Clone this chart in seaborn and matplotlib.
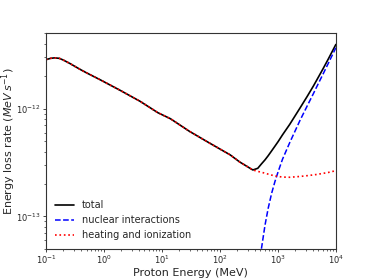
# plot.py - proton energy loss rate vs energy
import numpy as np
import matplotlib
matplotlib.use("Agg")
import matplotlib.pyplot as plt
import pandas as pd
import seaborn as sns

# Energy grid (MeV) and loss rates (units of 1e-12 MeV/s)
energy = [0.1, 0.12, 0.14, 0.17, 0.2, 0.26, 0.39, 0.5, 0.85, 1.9, 4.2, 8.5, 14, 30, 67, 150, 220, 370,
          450, 520, 600, 680, 780, 890, 1010, 1200, 1600, 2400, 3200, 4100, 4600, 6000, 7400, 10000]
heating = [2.85, 2.93, 2.96, 2.93, 2.82, 2.62, 2.31, 2.15, 1.86, 1.48, 1.17, 0.918, 0.807, 0.615, 0.478,
           0.373, 0.320, 0.270,
           0.262, 0.257, 0.252, 0.247, 0.242, 0.238, 0.235, 0.232, 0.231, 0.235, 0.239, 0.243, 0.245,
           0.251, 0.256, 0.266]
# nuclear term only switches on above a few hundred MeV
nuclear = [np.nan] * 18 + [0.0178, 0.0501, 0.0832, 0.119, 0.164, 0.211, 0.260, 0.339, 0.484, 0.776,
                           1.059, 1.380, 1.567, 2.089, 2.630, 3.673]

df = pd.DataFrame({"E": energy,
                   "heating": np.array(heating) * 1e-12,
                   "nuclear": np.array(nuclear) * 1e-12})
df["total"] = df["heating"] + df["nuclear"].fillna(0)

sns.set_style("ticks")
plt.rcParams["font.family"] = ["DejaVu Sans"]

fig = plt.figure(figsize=(3.74, 2.80), dpi=100)
ax = fig.add_axes([0.123, 0.111, 0.775, 0.770])

sns.lineplot(data=df, x="E", y="total", color="black", linewidth=1.2, label="total", ax=ax)
sns.lineplot(data=df, x="E", y="nuclear", color="blue", linewidth=1.1, linestyle="--",
             label="nuclear interactions", ax=ax)
sns.lineplot(data=df, x="E", y="heating", color="red", linewidth=1.2, linestyle=":",
             label="heating and ionization", ax=ax)

ax.set_xscale("log")
ax.set_yscale("log")
ax.set_xlim(1e-1, 1e4)
ax.set_ylim(5e-14, 5e-12)
ax.set_xlabel("Proton Energy (MeV)", fontsize=8, labelpad=1)
ax.set_ylabel(r"Energy loss rate ($MeV\,s^{-1}$)", fontsize=8)
ax.yaxis.set_label_coords(-0.098, 0.5)
ax.tick_params(which="major", labelsize=6, length=2.5, width=0.6, pad=1.2)
ax.tick_params(which="minor", length=1.5, width=0.5)
for s in ax.spines.values():
    s.set_color("#333333")
    s.set_linewidth(0.8)

ax.legend(loc="lower left", frameon=False, fontsize=7)

fig.savefig("out.png", dpi=100)
